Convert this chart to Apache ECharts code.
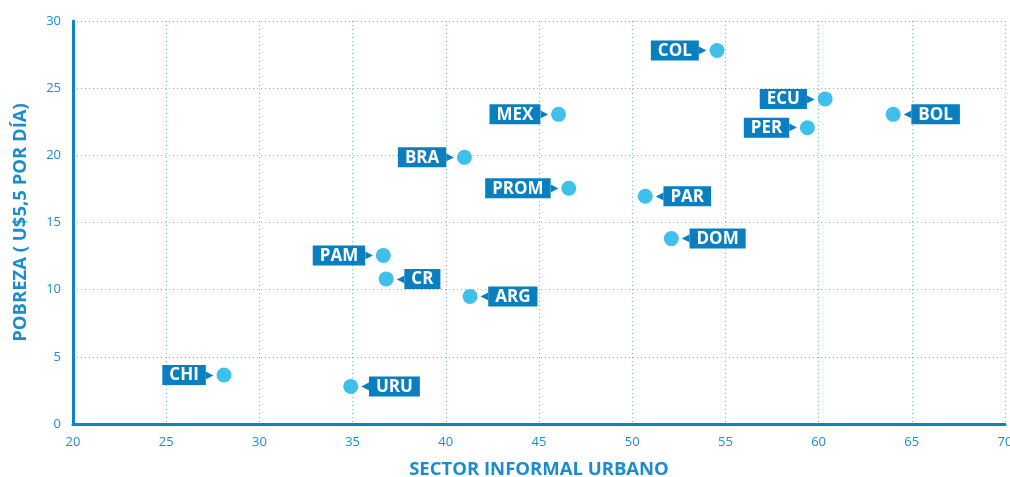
<!DOCTYPE html>
<html>
<head>
<meta charset="utf-8">
<script src="https://cdn.jsdelivr.net/npm/echarts@6/dist/echarts.min.js"></script>
<style>
  html, body { margin: 0; padding: 0; background: #fff; }
  #chart { width: 1010px; height: 477px; }
</style>
</head>
<body>
<div id="chart"></div>
<script>
// countries, values
const countries = ["COL", "ECU", "BOL", "PER", "MEX", "BRA", "PROM", "PAR", "DOM", "PAM", "CR", "ARG", "CHI", "URU"]
const informal = [54.55, 60.35, 64.0, 59.4, 46.05, 41.0, 46.6, 50.7, 52.1, 36.65, 36.8, 41.3, 28.1, 34.9]
const pobreza = [27.8, 24.2, 23.05, 22.05, 23.05, 19.85, 17.55, 16.95, 13.8, 12.55, 10.8, 9.5, 3.65, 2.8]
const labelSide = ["left", "left", "right", "left", "left", "left", "left", "right", "right", "left", "right", "right", "left", "right"]

const axisBlue = "#0a85c8"
const textBlue = "#1b8dcf"
const boxBlue = "#0a7fc0"
const dotBlue = "#3ec0eb"
const gridBlue = "#3aaee6"

const chart = echarts.init(document.getElementById("chart"))

const points = countries.map((name, i) => ({
  name: name,
  value: [informal[i], pobreza[i]],
  label: {
    position: labelSide[i],
    formatter: labelSide[i] === "left" ? "{box|" + name + "}{arr|▶}" : "{arr|◀}{box|" + name + "}"
  }
}))

chart.setOption({
  animation: false,
  grid: { left: 73, right: 5, top: 21, bottom: 53, containLabel: false, outerBoundsMode: "none" },
  xAxis: {
    type: "value",
    min: 20, max: 70, interval: 5,
    name: "SECTOR INFORMAL URBANO",
    nameLocation: "middle",
    nameGap: 36,
    nameTextStyle: { color: textBlue, fontSize: 18.5, fontWeight: "bold", fontFamily: "Open Sans" },
    axisLine: { lineStyle: { color: axisBlue, width: 3 } },
    axisTick: { show: false },
    axisLabel: { color: textBlue, fontSize: 13, fontFamily: "Open Sans", margin: 12 },
    splitLine: { lineStyle: { color: gridBlue, type: [1, 3], width: 1, opacity: 0.8 } }
  },
  yAxis: {
    type: "value",
    min: 0, max: 30, interval: 5,
    name: "POBREZA ( U$5,5 POR DÍA)",
    nameLocation: "middle",
    nameGap: 43,
    nameTextStyle: { color: textBlue, fontSize: 18.5, fontWeight: "bold", fontFamily: "Open Sans" },
    axisLine: { show: true, lineStyle: { color: axisBlue, width: 3 } },
    axisTick: { show: false },
    axisLabel: { color: textBlue, fontSize: 13, fontFamily: "Open Sans", margin: 12 },
    splitLine: { lineStyle: { color: gridBlue, type: [1, 3], width: 1, opacity: 0.8 } }
  },
  series: [
    {
      type: "scatter",
      symbolSize: 15,
      itemStyle: { color: dotBlue, opacity: 1 },
      data: points,
      label: {
        show: true,
        distance: 3,
        rich: {
          box: {
            backgroundColor: boxBlue,
            color: "#fff",
            fontSize: 17,
            fontWeight: "bold",
            fontFamily: "Open Sans",
            padding: [2, 7, 1, 7],
            lineHeight: 22,
            verticalAlign: "middle"
          },
          arr: {
            color: boxBlue,
            fontSize: 10,
            fontFamily: "DejaVu Sans",
            verticalAlign: "middle"
          }
        }
      }
    }
  ]
})
</script>
</body>
</html>
